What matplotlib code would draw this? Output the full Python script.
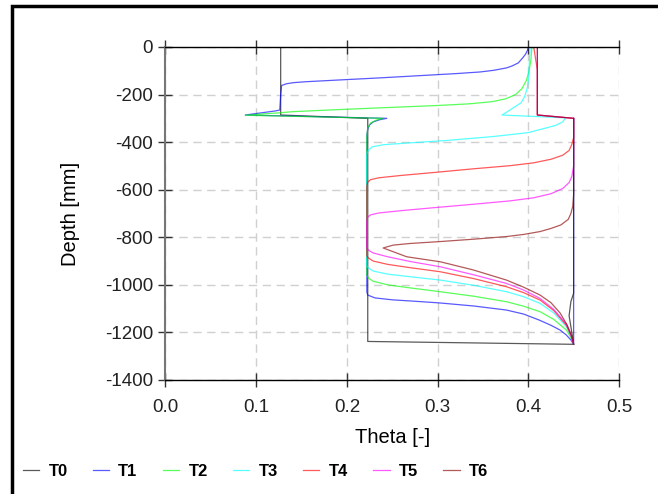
import matplotlib
matplotlib.use("Agg")
import matplotlib.pyplot as plt
from matplotlib.patches import Rectangle

plt.rcParams['font.family'] = ['Liberation Sans', 'DejaVu Sans']
plt.rcParams['axes.unicode_minus'] = False

# profiles: theta [-] vs depth [mm]
t0_theta = [0.127, 0.127, 0.223, 0.223, 0.450, 0.448, 0.445, 0.447, 0.450, 0.450]
t0_depth = [0, -286, -300, -1238, -1250, -1200, -1130, -1070, -1035, -300]

t1_theta = [0.400, 0.399, 0.397, 0.394, 0.389, 0.382, 0.376, 0.362, 0.347, 0.320, 0.292, 0.264,
            0.236, 0.190, 0.155, 0.141, 0.133, 0.128, 0.127, 0.126, 0.121, 0.088, 0.244, 0.236,
            0.229, 0.225, 0.223, 0.222, 0.222, 0.223, 0.231, 0.250, 0.275, 0.302, 0.340, 0.376,
            0.395, 0.412, 0.425, 0.435, 0.442, 0.447, 0.450, 0.450]
t1_depth = [0, -15, -30, -45, -67, -80, -88, -98, -105, -112, -118, -124,
            -130, -139, -146, -150, -155, -162, -200, -265, -269, -286, -300, -306,
            -315, -328, -345, -370, -1030, -1043, -1055, -1063, -1069, -1076, -1089, -1106,
            -1123, -1148, -1170, -1190, -1211, -1232, -1250, -300]

t2_theta = [0.404, 0.403, 0.401, 0.398, 0.393, 0.386, 0.375, 0.360, 0.335, 0.300, 0.236, 0.180,
            0.140, 0.128, 0.088, 0.240, 0.232, 0.226, 0.223, 0.222, 0.222, 0.224, 0.229, 0.245,
            0.270, 0.303, 0.340, 0.376, 0.395, 0.413, 0.428, 0.442, 0.447, 0.450]
t2_depth = [0, -50, -100, -140, -175, -200, -218, -230, -239, -246, -256, -265,
            -272, -276, -287, -300, -308, -320, -340, -380, -960, -972, -985, -1000,
            -1013, -1029, -1048, -1071, -1090, -1113, -1145, -1190, -1222, -1250]

t3_theta = [0.402, 0.401, 0.400, 0.399, 0.396, 0.392, 0.383, 0.377, 0.371, 0.441, 0.438, 0.430,
            0.415, 0.400, 0.360, 0.310, 0.270, 0.240, 0.228, 0.224, 0.222, 0.222, 0.224, 0.229,
            0.245, 0.270, 0.303, 0.340, 0.376, 0.395, 0.413, 0.428, 0.442, 0.447, 0.450]
t3_depth = [0, -80, -139, -170, -209, -235, -257, -272, -286, -298, -315, -330,
            -345, -360, -377, -393, -403, -411, -420, -432, -450, -920, -930, -942,
            -955, -966, -980, -1002, -1029, -1050, -1078, -1118, -1176, -1215, -1250]

t4_theta = [0.406, 0.410, 0.410, 0.450, 0.450, 0.448, 0.445, 0.438, 0.425, 0.406, 0.380, 0.340,
            0.295, 0.260, 0.235, 0.226, 0.223, 0.222, 0.222, 0.224, 0.229, 0.245, 0.270, 0.303,
            0.340, 0.376, 0.395, 0.413, 0.428, 0.442, 0.447, 0.450]
t4_depth = [0, -97, -286, -300, -380, -410, -435, -455, -472, -487, -499, -512,
            -528, -540, -550, -558, -568, -585, -878, -888, -900, -914, -928, -945,
            -974, -1008, -1033, -1064, -1108, -1170, -1212, -1250]

t5_theta = [0.410, 0.410, 0.450, 0.450, 0.448, 0.445, 0.438, 0.425, 0.406, 0.380, 0.340, 0.295,
            0.260, 0.235, 0.226, 0.223, 0.222, 0.222, 0.224, 0.229, 0.245, 0.270, 0.303, 0.340,
            0.376, 0.395, 0.413, 0.428, 0.442, 0.447, 0.450]
t5_depth = [0, -286, -300, -500, -545, -570, -595, -617, -634, -647, -661, -676,
            -688, -698, -706, -715, -732, -845, -855, -866, -882, -902, -924, -958,
            -994, -1022, -1057, -1103, -1165, -1210, -1250]

t6_theta = [0.410, 0.410, 0.450, 0.450, 0.449, 0.447, 0.444, 0.436, 0.425, 0.413, 0.395, 0.376,
            0.340, 0.303, 0.270, 0.251, 0.240, 0.266, 0.303, 0.339, 0.376, 0.395, 0.413, 0.425,
            0.435, 0.443, 0.448, 0.450]
t6_depth = [0, -286, -300, -620, -670, -700, -725, -748, -763, -776, -788, -797,
            -808, -818, -826, -833, -845, -882, -903, -937, -980, -1010, -1043, -1075,
            -1118, -1170, -1215, -1250]

labels = ["T0", "T1", "T2", "T3", "T4", "T5", "T6"]
colors = ["black", "#0000ff", "#00ff00", "#00ffff", "#ff0000", "#ff00ff", "#8b0000"]
thetas = [t0_theta, t1_theta, t2_theta, t3_theta, t4_theta, t5_theta, t6_theta]
depths = [t0_depth, t1_depth, t2_depth, t3_depth, t4_depth, t5_depth, t6_depth]

fig = plt.figure(figsize=(6.58, 4.94), dpi=100)
ax = fig.add_axes([0.2515, 0.2308, 0.6892, 0.6741])

for th, d, c, lab in zip(thetas, depths, colors, labels):
    ax.plot(th, d, color=c, lw=0.9, alpha=0.65, label=lab)

ax.set_xlim(0, 0.5)
ax.set_ylim(-1400, 0)
ax.set_xticks([0.0, 0.1, 0.2, 0.3, 0.4, 0.5])
ax.set_xticklabels(["0.0", "0.1", "0.2", "0.3", "0.4", "0.5"])
ax.set_yticks(range(-1400, 1, 200))
ax.grid(True, color="#d0d0d0", linestyle=(0, (6, 4)), lw=1.0)

ax.spines["right"].set_visible(False)
ax.spines["left"].set_color("#777777")
ax.spines["left"].set_linewidth(1.5)
ax.spines["top"].set_linewidth(1.0)
ax.spines["bottom"].set_linewidth(1.0)
ax.tick_params(axis="both", direction="inout", length=10, width=1.0,
               color="#333333", labelsize=13.5, labelcolor="#222222")
ax.tick_params(axis="x", top=True, pad=9)
ax.tick_params(axis="y", pad=4)

ax.set_xlabel("Theta [-]", fontsize=14.5, labelpad=8)
ax.set_ylabel("Depth [mm]", fontsize=14.5, labelpad=18)

fig.legend(loc="center", bbox_to_anchor=(0.388, 0.045), ncol=7, frameon=False,
           handlelength=1.0, columnspacing=1.5, handletextpad=0.55,
           prop={"weight": "bold", "size": 12})

# outer frame
fig.patches.append(Rectangle((12 / 658, -0.1), 1.2, 1 - 6 / 494 + 0.1,
                             transform=fig.transFigure, fill=False,
                             edgecolor="black", lw=2.5))

fig.savefig("out.png", dpi=100)
